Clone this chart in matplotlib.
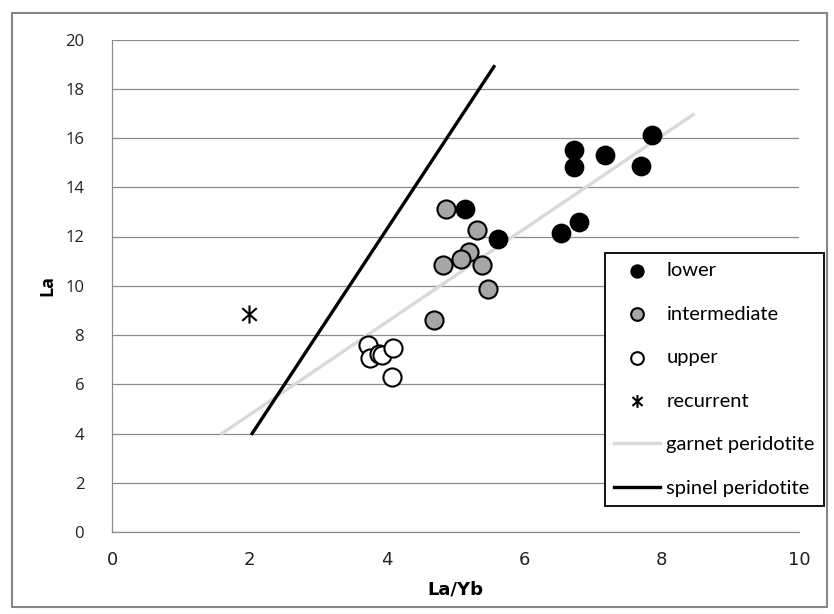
import matplotlib
matplotlib.use("Agg")
import matplotlib.pyplot as plt
from matplotlib.path import Path
from matplotlib.patches import Rectangle

# La/Yb vs La by group
lower_x = [5.14, 5.62, 6.72, 6.72, 7.17, 7.86, 7.70, 6.54, 6.80]
lower_y = [13.12, 11.90, 15.53, 14.82, 15.30, 16.14, 14.85, 12.14, 12.57]

inter_x = [4.86, 5.32, 5.20, 5.08, 4.82, 5.38, 5.48, 4.69]
inter_y = [13.12, 12.28, 11.39, 11.08, 10.85, 10.85, 9.86, 8.59]

upper_x = [3.73, 3.76, 3.88, 3.93, 4.09, 4.08]
upper_y = [7.60, 7.06, 7.24, 7.20, 7.49, 6.31]

recur_x = [1.99]
recur_y = [8.85]

# melting trends
garnet_x = [1.60, 8.46]
garnet_y = [4.00, 16.95]
spinel_x = [2.04, 5.56]
spinel_y = [4.00, 18.90]

xticks = [0, 2, 4, 6, 8, 10]
yticks = [0, 2, 4, 6, 8, 10, 12, 14, 16, 18, 20]

# asterisk: vertical bar plus an X
star = Path([(0, -1), (0, 1), (-0.8, -0.7), (0.8, 0.7), (-0.8, 0.7), (0.8, -0.7)],
            [Path.MOVETO, Path.LINETO, Path.MOVETO, Path.LINETO, Path.MOVETO, Path.LINETO])

fig = plt.figure(figsize=(8.34, 6.14), dpi=100)
ax = fig.add_axes([112/834, 1-532/614, (799-112)/834, (532-39.5)/614])

fig.patches.append(Rectangle((12/834, 1-607/614), (827-12)/834, (607-13)/614,
                             transform=fig.transFigure, fill=False,
                             edgecolor="#868686", linewidth=1.5))

ax.scatter(lower_x, lower_y, s=170, c="black", edgecolors="black", linewidths=1.2,
           zorder=3, label="lower")
ax.scatter(inter_x, inter_y, s=170, c="#a6a6a6", edgecolors="black", linewidths=1.5,
           zorder=3, label="intermediate")
ax.scatter(upper_x, upper_y, s=170, c="white", edgecolors="black", linewidths=1.5,
           zorder=3, label="upper")
ax.scatter(recur_x, recur_y, s=170, marker=star, c="black", linewidths=1.5,
           zorder=3, label="recurrent")
ax.plot(garnet_x, garnet_y, color="#d9d9d9", linewidth=2.4, zorder=2,
        label="garnet peridotite")
ax.plot(spinel_x, spinel_y, color="black", linewidth=2.4, zorder=2,
        label="spinel peridotite")

ax.set_xlim(0, 10)
ax.set_ylim(0, 20)
ax.set_xticks(xticks)
ax.set_yticks(yticks)
ax.tick_params(length=0)
ax.tick_params(axis="y", pad=20)
ax.tick_params(axis="x", pad=14)
for lab in ax.get_yticklabels():
    lab.set_fontfamily("Open Sans")
    lab.set_fontsize(12)
    lab.set_color("#222222")
for lab in ax.get_xticklabels():
    lab.set_fontfamily(["Liberation Sans Narrow", "DejaVu Sans"])
    lab.set_fontsize(13)
    lab.set_color("#222222")

ax.yaxis.grid(True, color="#8c8c8c", linewidth=0.9)
ax.set_axisbelow(True)
for side in ["top", "right"]:
    ax.spines[side].set_visible(False)
for side in ["left", "bottom"]:
    ax.spines[side].set_color("#8c8c8c")
    ax.spines[side].set_linewidth(0.9)

ax.set_xlabel("La/Yb", fontsize=13, fontweight="bold",
              family=["Liberation Sans Narrow", "DejaVu Sans"], labelpad=8)
ax.set_ylabel("La", fontsize=13, fontweight="bold", family="Open Sans", labelpad=6)

leg = ax.legend(loc="upper left", bbox_to_anchor=(605/834, 1-253/614),
                bbox_transform=fig.transFigure, prop={"family": "Lato", "size": 14.5},
                frameon=True, fancybox=False, framealpha=1, edgecolor="black",
                handlelength=2.3, handletextpad=0.3, labelspacing=1.31,
                borderpad=0.45, borderaxespad=0, markerscale=0.7)
leg.get_frame().set_linewidth(1.3)

fig.savefig("out.png", dpi=100)
